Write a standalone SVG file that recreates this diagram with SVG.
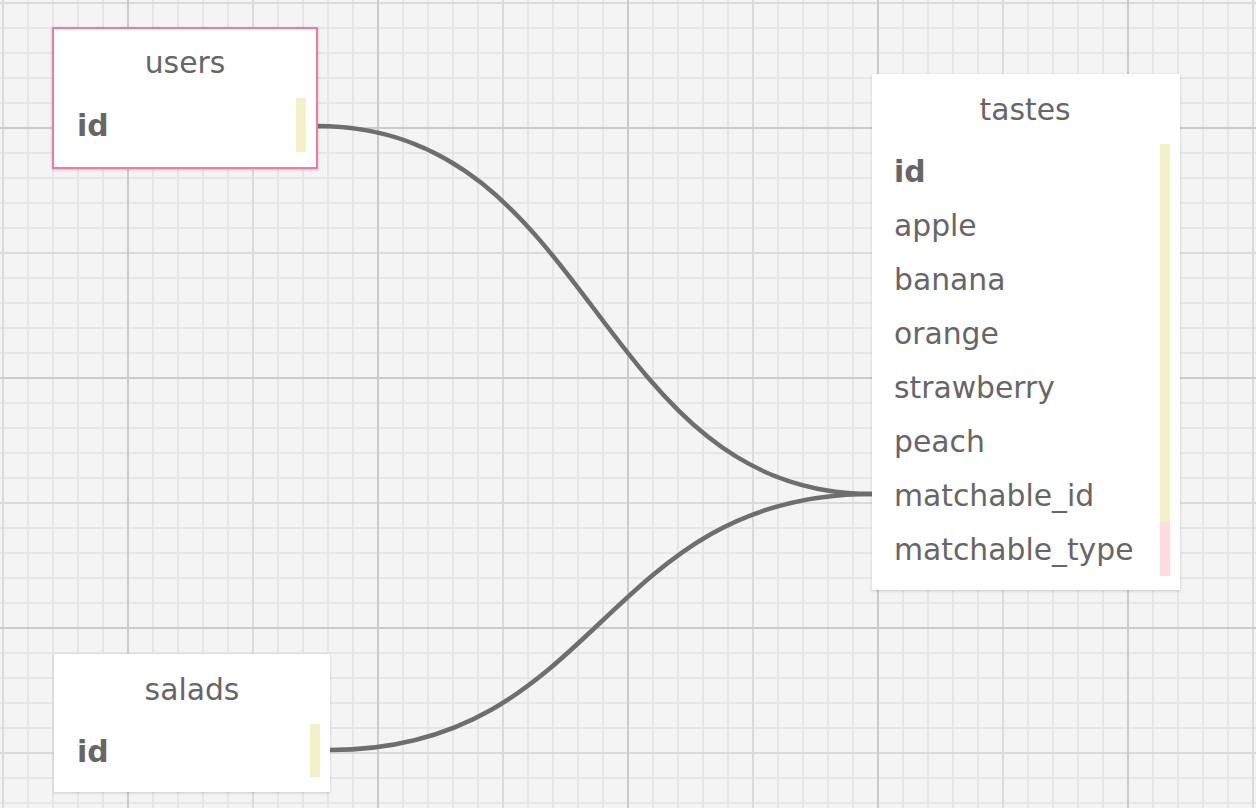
<svg xmlns="http://www.w3.org/2000/svg" width="1256" height="808" viewBox="0 0 1256 808">
  <defs>
    <pattern id="minor" patternUnits="userSpaceOnUse" x="2" y="2" width="25" height="25">
      <rect x="0" y="0" width="2" height="25" fill="#e6e6e6"/>
      <rect x="0" y="0" width="25" height="2" fill="#e6e6e6"/>
    </pattern>
    <pattern id="medium" patternUnits="userSpaceOnUse" x="2" y="2" width="125" height="125">
      <rect x="0" y="0" width="2" height="125" fill="#dbdbdb"/>
      <rect x="0" y="0" width="125" height="2" fill="#dbdbdb"/>
    </pattern>
    <pattern id="major" patternUnits="userSpaceOnUse" x="127" y="127" width="250" height="250">
      <rect x="0" y="0" width="2" height="250" fill="#cbcbcb"/>
      <rect x="0" y="0" width="250" height="2" fill="#cbcbcb"/>
    </pattern>
    <filter id="shadow" x="-10%" y="-10%" width="120%" height="120%">
      <feDropShadow dx="0" dy="1" stdDeviation="1.5" flood-color="#000" flood-opacity="0.18"/>
    </filter>
  </defs>
  <style>
    .box { fill: #ffffff; filter: url(#shadow); }
    .sel { stroke: #f07aa2; stroke-width: 2; }
    .title { font-family: "DejaVu Sans", sans-serif; font-size: 29.8px; fill: #666666; text-anchor: middle; }
    .field { font-family: "DejaVu Sans", sans-serif; font-size: 29.8px; fill: #666666; }
    .pk { font-weight: bold; }
    .bar-y { fill: #f3f1c8; }
    .bar-p { fill: #fcdcdc; }
    .link { fill: none; stroke: #6e6e6e; stroke-width: 4.5; }
  </style>
  <rect x="0" y="0" width="1256" height="808" fill="#f4f4f4"/>
  <rect x="0" y="0" width="1256" height="808" fill="url(#minor)"/>
  <rect x="0" y="0" width="1256" height="808" fill="url(#medium)"/>
  <rect x="0" y="0" width="1256" height="808" fill="url(#major)"/>

  <g id="connectors">
    <path class="link" d="M317,126 C595,126 595,494 872,494"/>
    <path class="link" d="M330,750 C601,750 601,494 872,494"/>
  </g>

  <g id="users">
    <rect class="box sel" x="53" y="28" width="264" height="140"/>
    <text class="title" x="185" y="73">users</text>
    <text class="field pk" x="77" y="136">id</text>
    <rect class="bar-y" x="296" y="98" width="10" height="54"/>
  </g>

  <g id="salads">
    <rect class="box" x="54" y="654" width="276" height="138"/>
    <text class="title" x="192" y="700">salads</text>
    <text class="field pk" x="77" y="762">id</text>
    <rect class="bar-y" x="310" y="724" width="10" height="53"/>
  </g>

  <g id="tastes">
    <rect class="box" x="872" y="74" width="308" height="516"/>
    <text class="title" x="1025" y="120">tastes</text>
    <rect class="bar-y" x="1160" y="144" width="10" height="378"/>
    <rect class="bar-p" x="1160" y="522" width="10" height="54"/>
    <text class="field pk" x="894" y="182">id</text>
    <text class="field" x="894" y="236">apple</text>
    <text class="field" x="894" y="290">banana</text>
    <text class="field" x="894" y="344">orange</text>
    <text class="field" x="894" y="398">strawberry</text>
    <text class="field" x="894" y="452">peach</text>
    <text class="field" x="894" y="506">matchable_id</text>
    <text class="field" x="894" y="560">matchable_type</text>
  </g>
</svg>
